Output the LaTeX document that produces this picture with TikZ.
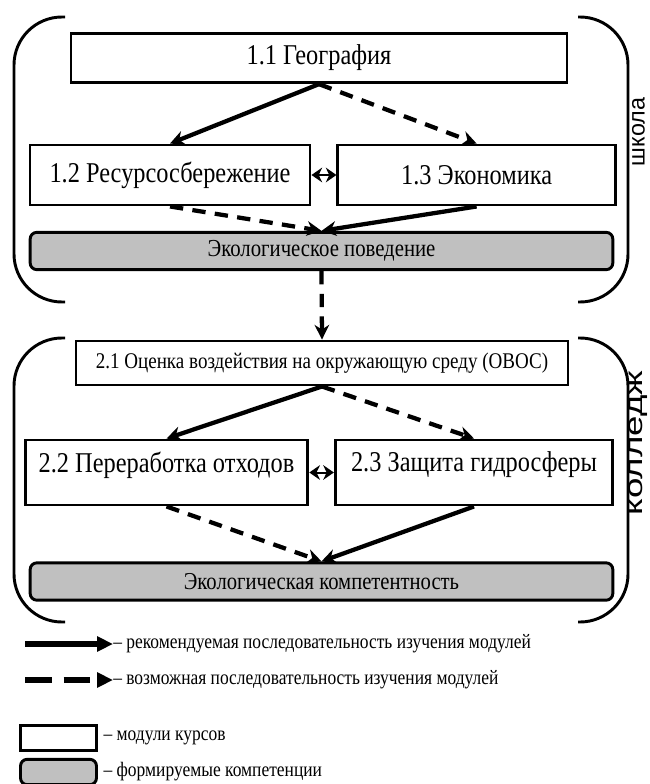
\documentclass[tikz,border=0pt]{standalone}
\usepackage{fontspec}
\setmainfont{Liberation Serif}[FakeStretch=0.85]
\newfontfamily\sidefont{Liberation Sans}
\newfontfamily\widesidefont{Liberation Sans}[FakeStretch=1.45]
\usetikzlibrary{arrows.meta,positioning}
\definecolor{compgray}{RGB}{192,192,192}
\newcommand{\fsz}[1]{\fontsize{#1}{#1}\selectfont}

\begin{document}
\begin{tikzpicture}[x=0.75pt,y=-0.75pt]
            \tikzstyle{module}=[draw, line width=2.2pt, fill=white, inner sep=0pt]
            \tikzstyle{competence}=[draw, line width=2.2pt, fill=compgray, rounded corners=5pt, inner sep=0pt, minimum width=437pt, minimum height=28pt]
            \tikzstyle{must}=[line width=3.2pt, -{Stealth[length=11pt,width=11pt]}]
            \tikzstyle{may}=[must, dash pattern=on 10pt off 7pt]
            \tikzstyle{both}=[line width=1.5pt, {Stealth[length=8pt,width=11pt]}-{Stealth[length=8pt,width=11pt]}]
            \tikzstyle{bracket}=[line width=2.2pt, rounded corners=36pt]
            \tikzstyle{side}=[rotate=90, inner sep=0pt]
            \tikzstyle{legend}=[anchor=west, inner sep=0pt, font=\fsz{15.4}]

            \useasboundingbox (0,0) rectangle (649,784);

            % school
            \draw[bracket] (65,17) -- (14,17) -- (14,302) -- (65,302);
            \draw[bracket] (578,17) -- (628,17) -- (628,302) -- (578,302);
            \node[side, font=\sidefont\fsz{17.5}] (school) at (638.5,132) {школа};

            \node[module, minimum width=372pt, minimum height=37pt, font=\fsz{21.5}] (geo) at (319,58) {1.1 География};
            \node[module, minimum width=210pt, minimum height=45pt, font=\fsz{21.5}] (res) at (170,175) {1.2 Ресурсосбережение};
            \node[module, minimum width=208pt, minimum height=45pt, font=\fsz{21.5}, right=18.75pt of res] (eco) {1.3 Экономика};
            \node[competence, font=\fsz{18.3}] (beh) at (321.5,251) {Экологическое поведение};

            \draw[must] (geo.south) -- (res.north);
            \draw[may] (geo.south) -- (eco.north);
            \draw[both] (res.east) -- (eco.west);
            \draw[may] (res.south) -- (beh.north);
            \draw[must] (eco.south) -- (beh.north);

            % college
            \draw[bracket] (65,338) -- (14,338) -- (14,622) -- (65,622);
            \draw[bracket] (578,338) -- (628,338) -- (628,622) -- (578,622);
            \node[side, font=\widesidefont\fsz{19}] (college) at (638.5,443) {колледж};

            \node[module, minimum width=369pt, minimum height=33pt, font=\fsz{16.8}] (ovos) at (322,363) {2.1 Оценка воздействия на окружающую среду (ОВОС)};
            \node[module, minimum width=212pt, minimum height=48.75pt, text depth=16pt, font=\fsz{21.5}] (waste) at (166.5,472.5) {2.2 Переработка отходов};
            \node[module, minimum width=208pt, minimum height=48.75pt, text depth=16pt, font=\fsz{21.5}] (hydro) at (474,472.5) {2.3 Защита гидросферы};
            \node[competence, font=\fsz{18.2}] (comp) at (321.5,581.5) {Экологическая компетентность};

            \draw[may] (beh.south) -- (ovos.north);
            \draw[must] (ovos.south) -- (waste.north);
            \draw[may] (ovos.south) -- (hydro.north);
            \draw[both] (waste.east) -- (hydro.west);
            \draw[may] (waste.south) -- (comp.north);
            \draw[must] (hydro.south) -- (comp.north);

            % legend
            \coordinate (l1) at (25,644);
            \node[legend] (l1text) at (113,644) {– рекомендуемая последовательность изучения модулей};
            \draw[line width=4pt, -{Triangle[length=12pt,width=11pt]}] (l1) -- (l1text.west);
            \coordinate (l2) at (25,680);
            \node[legend] (l2text) at (113,680) {– возможная последовательность изучения модулей};
            \draw[line width=4pt, dash pattern=on 20pt off 9pt, -{Triangle[length=12pt,width=11pt]}] (l2) -- (l2text.west);

            \node[module, minimum width=57pt, minimum height=19pt] (lmod) at (58.5,738) {};
            \node[legend, right=4pt of lmod] {– модули курсов};
            \node[competence, minimum width=57pt, minimum height=19pt] (lcomp) at (58.5,772) {};
            \node[legend, right=4pt of lcomp] {– формируемые компетенции};
\end{tikzpicture}
\end{document}
